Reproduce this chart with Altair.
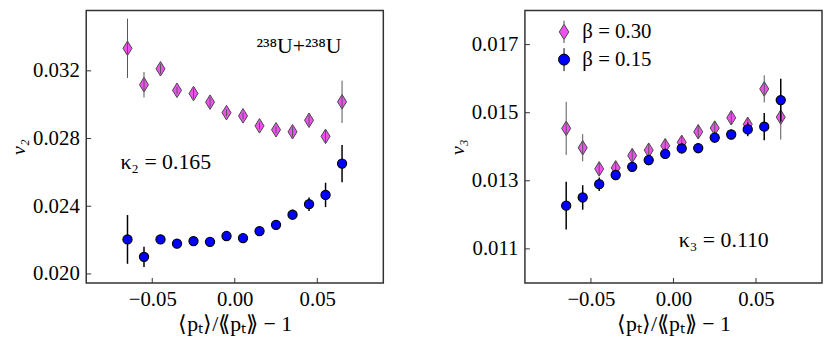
import altair as alt
import pandas as pd

# ---------------- data ----------------
x_vals = [-0.065, -0.055, -0.045, -0.035, -0.025, -0.015, -0.005,
          0.005, 0.015, 0.025, 0.035, 0.045, 0.055, 0.065]

v2_b30 = [0.03333, 0.03118, 0.03212, 0.03085, 0.03066, 0.03015, 0.02953,
          0.02934, 0.02875, 0.02852, 0.02840, 0.02908, 0.02813, 0.03017]
v2_b30_err = [0.00175, 0.00075, 0.0003, 0.0002, 0.0003, 0.0003, 0.0002,
              0.0002, 0.0002, 0.0002, 0.0003, 0.0003, 0.0004, 0.00125]
v2_b15 = [0.02204, 0.02101, 0.02204, 0.02179, 0.02194, 0.02190, 0.02224,
          0.02212, 0.02253, 0.02290, 0.02350, 0.02412, 0.02467, 0.02652]
v2_b15_err = [0.00144, 0.0006, 0.0002, 0.0002, 0.0002, 0.0002, 0.0002,
              0.0002, 0.0002, 0.0002, 0.0003, 0.0004, 0.00072, 0.0011]

v3_b30 = [0.01454, 0.01397, 0.01335, 0.01338, 0.01374, 0.01390, 0.01403,
          0.01413, 0.01444, 0.01455, 0.01485, 0.01466, 0.01570, 0.01487]
v3_b30_err = [0.00078, 0.0004, 0.0002, 0.0002, 0.0002, 0.0002, 0.0002,
              0.0002, 0.0002, 0.0002, 0.0002, 0.0002, 0.0004, 0.00066]
v3_b15 = [0.01227, 0.01251, 0.01290, 0.01317, 0.01341, 0.01361, 0.01379,
          0.01395, 0.01396, 0.01427, 0.01436, 0.01451, 0.01459, 0.01537]
v3_b15_err = [0.0007, 0.00036, 0.0002, 0.00015, 0.00015, 0.00015, 0.00015,
              0.00015, 0.00015, 0.00015, 0.00015, 0.0002, 0.0004, 0.00063]

x_ticks = [-0.05, 0.0, 0.05]
v2_ticks = [0.020, 0.024, 0.028, 0.032]
v3_ticks = [0.011, 0.013, 0.015, 0.017]
x_domain = [-0.09, 0.09]
v2_domain = [0.01947, 0.03556]
v3_domain = [0.0100, 0.0180]

series_labels = ["β = 0.30", "β = 0.15"]
x_title = "⟨pₜ⟩/⟪pₜ⟫ − 1"

# annotations: (x, y, text, align)
v2_notes = [(0.0389, 0.03344, "²³⁸U+²³⁸U", "center"), (-0.0693, 0.02661, "κ₂ = 0.165", "left")]
v3_notes = [(0.0305, 0.01125, "κ₃ = 0.110", "center")]

# ---------------- styling ----------------
FONT = "Liberation Serif"
PINK = "#f050f0"
BLUE = "#0000ff"
PINK_EDGE = "#454545"
FRAME = "#333333"
W, H = 300, 275
DIAMOND = "M0,-1L0.62,0L0,1L-0.62,0Z"
DIAMOND_LEG = "M0,-1L0.62,0L0,1L-0.62,0Z M0,-1.45L0,-1 M0,1L0,1.45"
CIRCLE_LEG = "M0.72,0A0.72,0.72,0,1,1,-0.72,0A0.72,0.72,0,1,1,0.72,0Z M0,-1.5L0,-0.72 M0,0.72L0,1.5"


def panel(ya, ya_err, yb, yb_err, ydom, yticks, ytitle, notes, with_legend):
    df = pd.DataFrame({
        "x": x_vals,
        "a": ya, "a_lo": [v - e for v, e in zip(ya, ya_err)], "a_hi": [v + e for v, e in zip(ya, ya_err)],
        "b": yb, "b_lo": [v - e for v, e in zip(yb, yb_err)], "b_hi": [v + e for v, e in zip(yb, yb_err)],
    })
    xs = alt.Scale(domain=x_domain, nice=False, zero=False)
    ys = alt.Scale(domain=ydom, nice=False, zero=False)
    xaxis = alt.Axis(values=x_ticks, format=".2f", ticks=False, tickSize=0, domain=False, grid=False,
                     labelPadding=6, title=x_title, titlePadding=4, titleFontSize=22)
    yaxis = alt.Axis(values=yticks, format=".3f", ticks=False, tickSize=0, domain=False, grid=False,
                     labelPadding=7, title=ytitle, titlePadding=4, titleFontStyle="italic",
                     titleFontSize=20)
    X = alt.X("x:Q", scale=xs, axis=xaxis)

    base = alt.Chart(df)
    pink_pts = base.mark_point(shape=DIAMOND, filled=True, size=215, fill=PINK, stroke=PINK_EDGE,
                               strokeWidth=1, opacity=1).encode(
        x=X, y=alt.Y("a:Q", scale=ys, axis=yaxis))
    pink_err = base.mark_rule(color="#555555", strokeWidth=1).encode(
        x=X, y=alt.Y("a_lo:Q", scale=ys, axis=yaxis), y2="a_hi:Q")
    blue_err = base.mark_rule(color="black", strokeWidth=1.5).encode(
        x=X, y=alt.Y("b_lo:Q", scale=ys, axis=yaxis), y2="b_hi:Q")
    blue_pts = base.mark_point(shape="circle", filled=True, size=85, fill=BLUE, stroke="black",
                               strokeWidth=1.2, opacity=1).encode(
        x=X, y=alt.Y("b:Q", scale=ys, axis=yaxis))

    ytick_df = pd.DataFrame({"t": yticks})
    xtick_df = pd.DataFrame({"t": x_ticks})
    ytick_layer = alt.Chart(ytick_df).mark_rule(color=FRAME, strokeWidth=1).encode(
        y=alt.Y("t:Q", scale=ys, axis=yaxis), x=alt.value(0), x2=alt.value(5))
    xtick_layer = alt.Chart(xtick_df).mark_rule(color=FRAME, strokeWidth=1).encode(
        x=alt.X("t:Q", scale=xs, axis=xaxis), y=alt.value(H), y2=alt.value(H - 5))

    layers = [ytick_layer, xtick_layer, pink_pts, pink_err, blue_err, blue_pts]
    for nx, ny, txt, al in notes:
        ndf = pd.DataFrame({"x": [nx], "y": [ny], "label": [txt]})
        layers.append(alt.Chart(ndf).mark_text(font=FONT, fontSize=22, align=al, baseline="middle",
                                               color="black").encode(
            x=alt.X("x:Q", scale=xs, axis=xaxis), y=alt.Y("y:Q", scale=ys, axis=yaxis), text="label:N"))

    if with_legend:
        ldf = pd.DataFrame({"series": series_labels})
        leg = alt.Legend(title=None, orient="none", legendX=29, legendY=11, labelFont=FONT,
                         labelFontSize=21, labelColor="black", symbolSize=240, symbolStrokeWidth=1,
                         rowPadding=0, labelOffset=8, padding=0, symbolOpacity=1)
        layers.append(alt.Chart(ldf).mark_point(filled=True, opacity=1, strokeWidth=1).encode(
            shape=alt.Shape("series:N", scale=alt.Scale(domain=series_labels, range=[DIAMOND_LEG, CIRCLE_LEG]),
                            legend=leg),
            fill=alt.Fill("series:N", scale=alt.Scale(domain=series_labels, range=[PINK, BLUE]), legend=leg),
            stroke=alt.Stroke("series:N", scale=alt.Scale(domain=series_labels, range=[PINK_EDGE, "black"]),
                              legend=leg),
        ).transform_filter("false"))

    return alt.layer(*layers).properties(width=W, height=H)


left = panel(v2_b30, v2_b30_err, v2_b15, v2_b15_err, v2_domain, v2_ticks, "v₂", v2_notes, False)
right = panel(v3_b30, v3_b30_err, v3_b15, v3_b15_err, v3_domain, v3_ticks, "v₃", v3_notes, True)

chart = alt.hconcat(left, right, spacing=63).resolve_scale(
    shape="independent", fill="independent", stroke="independent"
).resolve_legend(
    shape="independent", fill="independent", stroke="independent"
).properties(padding=0).configure_view(
    stroke=FRAME, strokeWidth=1.5
).configure_axis(
    labelFont=FONT, titleFont=FONT, labelFontSize=21, titleFontSize=21,
    labelColor="black", titleColor="black", titleFontWeight="normal"
)

chart.save("out.html", embed_options={"renderer": "svg", "actions": False})
